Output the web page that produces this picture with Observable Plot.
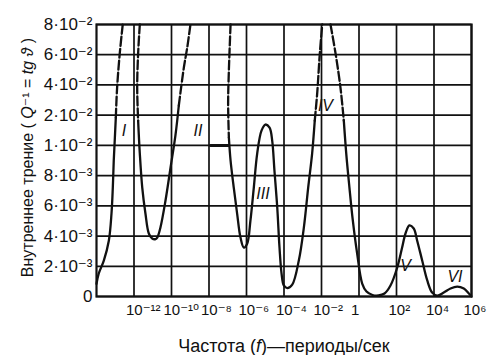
<!DOCTYPE html>
<html><head><meta charset="utf-8">
<script src="https://cdn.jsdelivr.net/npm/d3@7"></script>
<script src="https://cdn.jsdelivr.net/npm/@observablehq/plot@0.6"></script>
<style>body{margin:0;background:#fff} svg{display:block}</style>
</head><body><div id="chart"></div>
<script>
// Y levels (unevenly valued, evenly spaced on the chart) and their labels
const yLevels = [0, 0.002, 0.004, 0.006, 0.008, 0.01, 0.02, 0.04, 0.06, 0.08];
const yTickLabels = ["0","2·10⁻³","4·10⁻³","6·10⁻³","8·10⁻³","1·10⁻²","2·10⁻²","4·10⁻²","6·10⁻²","8·10⁻²"];
// X ticks (frequency, periods / sec) and labels
const xTicks = [1e-12, 1e-10, 1e-8, 1e-6, 1e-4, 1e-2, 1, 1e2, 1e4, 1e6];
const xTickLabels = ["10⁻¹²","10⁻¹⁰","10⁻⁸","10⁻⁶","10⁻⁴","10⁻²","1","10²","10⁴","10⁶"];

// Curve pieces: log10(frequency) and internal friction Q^-1 (each piece ends at the top of the chart)
const pieceA_lgF = [-14.0, -13.88, -13.61, -13.34, -13.2, -13.13, -13.08, -13.02, -12.97, -12.9, -12.76, -12.6];
const pieceA_q   = [0.00084, 0.00152, 0.00238, 0.00371, 0.00549, 0.00721, 0.009, 0.0126, 0.0192, 0.0384, 0.0608, 0.08];
const pieceB_lgF = [-11.69, -11.78, -11.83, -11.78, -11.69, -11.56, -11.39, -11.21, -11.03, -10.85, -10.76, -10.59, -10.32, -10.05, -9.79, -9.61, -9.34, -9.16, -8.99];
const pieceB_q   = [0.08, 0.0608, 0.0384, 0.0182, 0.00946, 0.00721, 0.00549, 0.00417, 0.00384, 0.0038, 0.0039, 0.00457, 0.00635, 0.00854, 0.0133, 0.0264, 0.0516, 0.0648, 0.08];
const pieceC_lgF = [-6.85, -6.94, -6.98, -6.94, -6.85, -6.68, -6.5, -6.32, -6.14, -5.96, -5.79, -5.61, -5.43, -5.2, -4.99, -4.77, -4.63, -4.51, -4.36, -4.24, -4.13, -4.01, -3.83, -3.56, -3.21, -2.94, -2.71, -2.5, -2.36, -2.23, -2.09, -1.96];
const pieceC_q   = [0.08, 0.0496, 0.0278, 0.0126, 0.009, 0.00721, 0.00549, 0.0039, 0.00324, 0.00351, 0.00503, 0.00721, 0.00946, 0.0149, 0.0169, 0.0159, 0.0116, 0.00834, 0.00589, 0.00324, 0.00152, 0.00073, 0.00056, 0.00079, 0.00238, 0.00457, 0.00721, 0.00946, 0.0182, 0.0344, 0.0608, 0.08];
const pieceD_lgF = [-1.52, -1.25, -0.99, -0.81, -0.68, -0.51, -0.33, -0.1, 0.17, 0.4, 0.72, 1.04, 1.36, 1.68, 2.04, 2.3, 2.48, 2.69, 2.92, 3.1, 3.37, 3.64, 3.9, 4.17, 4.52, 4.88, 5.24, 5.59, 5.86, 6.0];
const pieceD_q   = [0.08, 0.0608, 0.0384, 0.0182, 0.00946, 0.00721, 0.00503, 0.00285, 0.00086, 0.00033, 0.0001, 0.00007, 0.0002, 0.00073, 0.00192, 0.00324, 0.00417, 0.0047, 0.0045, 0.00371, 0.00238, 0.00106, 0.00026, 0.00005, 0.00026, 0.00053, 0.00066, 0.00053, 0.0002, 0];

// Small horizontal mark next to "II" on the 1·10⁻² line
const markII_lgF = [-7.92, -6.96];
const markII_q = [0.01, 0.01];

// Curve labels
const curveLabels = ["I", "II", "III", "IV", "V", "VI"];
const curveLabel_lgF = [-12.53, -8.59, -5.12, -1.79, 2.48, 5.12];
const curveLabel_q = [0.0149, 0.0149, 0.00682, 0.0264, 0.00205, 0.00132];

const yTitle = "Внутреннее трение ( Q⁻¹ = tg ϑ )";
const xTitle = "Частота (f)—периоды/сек";

// ---- build tables ----
const dashAbove = 0.02;
const pieces = [[pieceA_lgF, pieceA_q], [pieceB_lgF, pieceB_q], [pieceC_lgF, pieceC_q], [pieceD_lgF, pieceD_q]];
const runs = [];
let runId = 0;
pieces.forEach(([lg, q]) => {
  let curStyle = null;
  for (let i = 0; i < lg.length - 1; i++) {
    const style = (q[i] + q[i + 1]) / 2 > dashAbove ? "dash" : "solid";
    if (style !== curStyle) {
      runId++;
      curStyle = style;
      runs.push({id: runId, style, f: 10 ** lg[i], q: q[i]});
    }
    runs.push({id: runId, style, f: 10 ** lg[i + 1], q: q[i + 1]});
  }
});
const markII = markII_lgF.map((g, i) => ({f: 10 ** g, q: markII_q[i]}));
const labels = curveLabels.map((t, i) => ({t, f: 10 ** curveLabel_lgF[i], q: curveLabel_q[i]}));
const yLab = new Map(yLevels.map((v, i) => [v, yTickLabels[i]]));
const xLab = new Map(xTicks.map((v, i) => [v, xTickLabels[i]]));

const W = 500, H = 355, mT = 24, mB = 59, mL = 96, mR = 29;
const yRange = yLevels.map((_, i) => (H - mB) - i * (H - mB - mT) / (yLevels.length - 1));
const FONT = "'Liberation Sans', Arimo, 'DejaVu Sans', sans-serif";
const INK = "#111";

const chart = Plot.plot({
  width: W, height: H, marginTop: mT, marginBottom: mB, marginLeft: mL, marginRight: mR,
  style: {fontFamily: FONT, background: "#fff", color: INK},
  x: {type: "log", domain: [1e-14, 1e6]},
  y: {type: "linear", domain: yLevels, range: yRange},
  marks: [
    Plot.gridX(xTicks, {stroke: INK, strokeOpacity: 1, strokeWidth: 1.7}),
    Plot.gridY(yLevels, {stroke: INK, strokeOpacity: 1, strokeWidth: 1.7}),
    Plot.frame({stroke: INK, strokeWidth: 2.2}),
    Plot.axisX(xTicks, {tickSize: 0, tickPadding: 8, tickFormat: d => xLab.get(d), fontSize: 15, textAnchor: "start", dx: -8, label: null}),
    Plot.axisY(yLevels, {tickSize: 0, tickPadding: 4, tickFormat: d => yLab.get(d), fontSize: 17, label: null}),
    Plot.line(runs.filter(d => d.style === "solid"), {x: "f", y: "q", z: "id", stroke: INK, strokeWidth: 2.3, curve: "catmull-rom"}),
    Plot.line(runs.filter(d => d.style === "dash"), {x: "f", y: "q", z: "id", stroke: INK, strokeWidth: 2.3, strokeDasharray: "9,3", curve: "catmull-rom"}),
    Plot.line(markII, {x: "f", y: "q", stroke: INK, strokeWidth: 3}),
    Plot.text(labels, {x: "f", y: "q", text: "t", fontSize: 16, fontStyle: "italic", fill: INK}),
    Plot.text([yTitle], {text: d => d, frameAnchor: "left", textAnchor: "middle", lineAnchor: "middle", dx: -69, dy: -3, rotate: -90, fontSize: 16, fill: INK}),
    Plot.text([xTitle], {text: d => d, frameAnchor: "bottom", lineAnchor: "middle", dy: 50, fontSize: 18, fill: INK})
  ]
});

// italicise the symbols in the titles (text stays real text)
function italicize(svg, full, parts) {
  svg.querySelectorAll("text").forEach(t => {
    if (t.textContent !== full) return;
    while (t.firstChild) t.removeChild(t.firstChild);
    parts.forEach(([s, it]) => {
      const ts = document.createElementNS("http://www.w3.org/2000/svg", "tspan");
      ts.textContent = s;
      if (it) ts.setAttribute("font-style", "italic");
      t.appendChild(ts);
    });
  });
}
italicize(chart, yTitle, [["Внутреннее трение ( ", false], ["Q", true], ["⁻¹ = ", false], ["tg ϑ", true], [" )", false]]);
italicize(chart, xTitle, [["Частота (", false], ["f", true], [")—периоды/сек", false]]);
document.getElementById("chart").appendChild(chart);
</script>
</body></html>
